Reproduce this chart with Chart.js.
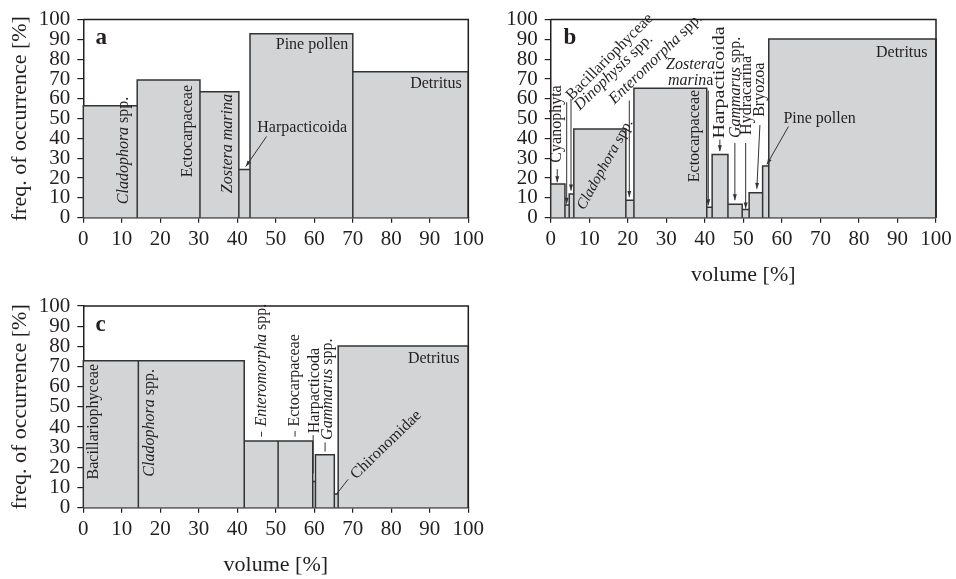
<!DOCTYPE html>
<html>
<head>
<meta charset="utf-8">
<script src="https://cdn.jsdelivr.net/npm/chart.js@4.4.1/dist/chart.umd.min.js"></script>
<style>
  html, body { margin: 0; padding: 0; background: #fff; }
  body { width: 956px; height: 579px; position: relative; overflow: hidden; }
  canvas { position: absolute; }
</style>
</head>
<body>
<canvas id="panelA" width="490" height="260" style="left:0;top:0"></canvas>
<canvas id="panelB" width="466" height="290" style="left:490px;top:0"></canvas>
<canvas id="panelC" width="490" height="299" style="left:0;top:280px"></canvas>
<script>
// bar edges on the volume axis [%] and bar heights = freq. of occurrence [%]
var aNames = ["Cladophora spp.", "Ectocarpaceae", "Zostera marina", "Harpacticoida", "Pine pollen", "Detritus"];
var aEdges = [0, 14, 30.3, 40.4, 43.3, 70, 100];
var aFreq  = [56.5, 69.5, 63.6, 24.3, 92.9, 73.7];

var bNames = ["Cyanophyta", "Bacillariophyceae", "Dinophysis spp.", "Cladophora spp.", "Enteromorpha spp.",
              "Ectocarpaceae", "Zostera marina", "Harpacticoida", "Gammarus spp.", "Hydracarina",
              "Bryozoa", "Pine pollen", "Detritus"];
var bEdges = [0, 3.7, 4.8, 6.0, 19.5, 21.6, 40.5, 41.9, 46.0, 49.7, 51.5, 55.0, 56.6, 100];
var bFreq  = [17, 6.4, 12, 44.8, 8.8, 65.3, 5.3, 31.9, 6.8, 4.1, 12.6, 26.1, 90.2];

var cNames = ["Bacillariophyceae", "Cladophora spp.", "Enteromorpha spp.", "Ectocarpaceae",
              "Harpacticoda", "Gammarus spp.", "Chironomidae", "Detritus"];
var cEdges = [0, 14.3, 41.8, 50.6, 59.6, 60.3, 65.2, 66.2, 100];
var cFreq  = [72.9, 72.9, 33.1, 33.1, 13, 26.3, 6.8, 80.2];

var xTicks = [0, 10, 20, 30, 40, 50, 60, 70, 80, 90, 100];
var yTicks = [0, 10, 20, 30, 40, 50, 60, 70, 80, 90, 100];

var SERIF = '"Liberation Serif", "Times New Roman", serif';
var INK = "#231f20";

// outline of the variable-width bars: up, across, down for every bar
function outline(edges, freq) {
  var pts = [{ x: edges[0], y: 0 }];
  for (var i = 0; i < freq.length; i++) {
    pts.push({ x: edges[i], y: freq[i] });
    pts.push({ x: edges[i + 1], y: freq[i] });
    pts.push({ x: edges[i + 1], y: 0 });
  }
  return pts;
}

// frame, leader lines and the text labels, placed in data units
var notes = {
  id: "notes",
  afterDatasetsDraw: function(chart, args, opts) {
    var ctx = chart.ctx, xs = chart.scales.x, ys = chart.scales.y, a = chart.chartArea;
    ctx.save();
    ctx.strokeStyle = INK;
    ctx.lineWidth = 1.5;
    ctx.beginPath();
    ctx.moveTo(a.left, a.top);
    ctx.lineTo(a.right, a.top);
    ctx.lineTo(a.right, a.bottom);
    ctx.stroke();

    ctx.strokeStyle = "#333";
    ctx.fillStyle = "#333";
    ctx.lineWidth = 1;
    (opts.lines || []).forEach(function(l) {
      var x1 = xs.getPixelForValue(l[0]), y1 = ys.getPixelForValue(l[1]);
      var x2 = xs.getPixelForValue(l[2]), y2 = ys.getPixelForValue(l[3]);
      ctx.beginPath();
      ctx.moveTo(x1, y1);
      ctx.lineTo(x2, y2);
      ctx.stroke();
      if (l[4]) {
        var ang = Math.atan2(y2 - y1, x2 - x1);
        ctx.save();
        ctx.translate(x2, y2);
        ctx.rotate(ang);
        ctx.beginPath();
        ctx.moveTo(0, 0);
        ctx.lineTo(-6, -2);
        ctx.lineTo(-6, 2);
        ctx.closePath();
        ctx.fill();
        ctx.restore();
      }
    });

    ctx.fillStyle = INK;
    ctx.textBaseline = "middle";
    ctx.textAlign = "left";
    (opts.labels || []).forEach(function(t) {
      var size = t.size || 16;
      var fonts = t.parts.map(function(p) {
        return (p[1] ? "italic " : "") + (t.bold ? "bold " : "") + size + "px " + SERIF;
      });
      var total = 0;
      var widths = t.parts.map(function(p, i) {
        ctx.font = fonts[i];
        var w = ctx.measureText(p[0]).width;
        total += w;
        return w;
      });
      var start = t.align === "right" ? -total : (t.align === "center" ? -total / 2 : 0);
      ctx.save();
      ctx.translate(xs.getPixelForValue(t.x), ys.getPixelForValue(t.y));
      ctx.rotate(-(t.rot || 0) * Math.PI / 180);
      if (t.sx) ctx.scale(t.sx, 1);
      var cx = start;
      t.parts.forEach(function(p, i) {
        ctx.font = fonts[i];
        ctx.fillText(p[0], cx, 0);
        cx += widths[i];
      });
      ctx.restore();
    });
    ctx.restore();
  }
};

function makePanel(id, edges, freq, o) {
  return new Chart(document.getElementById(id), {
    type: "line",
    data: {
      datasets: [{
        data: outline(edges, freq),
        backgroundColor: "#d3d4d6",
        borderColor: "#333",
        borderWidth: 1.5,
        borderJoinStyle: "miter",
        pointRadius: 0,
        tension: 0,
        fill: "origin",
        clip: 4
      }]
    },
    options: {
      responsive: false,
      animation: false,
      devicePixelRatio: 1,
      layout: { padding: o.padding },
      scales: {
        x: {
          type: "linear",
          min: 0,
          max: 100,
          afterBuildTicks: function(s) { s.ticks = xTicks.map(function(v) { return { value: v }; }); },
          afterFit: function(s) { s.height = o.xHeight; },
          ticks: { font: { family: SERIF, size: 21 }, color: INK, padding: 4, maxRotation: 0, autoSkip: false },
          grid: { drawOnChartArea: false, tickLength: 5, color: INK, lineWidth: 1.2 },
          border: { color: INK, width: 1.5 },
          title: {
            display: !!o.xTitle,
            text: "volume [%]",
            font: { family: SERIF, size: 22 },
            color: INK,
            padding: { top: 0, bottom: o.xTitlePad || 0 }
          }
        },
        y: {
          min: 0,
          max: 100,
          afterBuildTicks: function(s) { s.ticks = yTicks.map(function(v) { return { value: v }; }); },
          afterFit: function(s) { s.width = o.yWidth; },
          ticks: { font: { family: SERIF, size: 21 }, color: INK, padding: 7, autoSkip: false },
          grid: { drawOnChartArea: false, tickLength: 6, color: INK, lineWidth: 1.2 },
          border: { color: INK, width: 1.5 },
          title: {
            display: !!o.yTitle,
            text: "freq. of occurrence [%]",
            font: { family: SERIF, size: 22 },
            color: INK,
            padding: { top: 7.5, bottom: 0 }
          }
        }
      },
      plugins: {
        legend: { display: false },
        tooltip: { enabled: false },
        notes: { labels: o.labels, lines: o.lines }
      }
    },
    plugins: [notes]
  });
}

var up = 90;
makePanel("panelA", aEdges, aFreq, {
  padding: { top: 16.3, right: 21.7, left: 0, bottom: 0 },
  yWidth: 83.3, xHeight: 42.3, yTitle: true,
  labels: [
    { parts: [["a", 0]], x: 3.2, y: 90.7, bold: true, size: 23 },
    { parts: [["Cladophora", 1], [" spp.", 0]], x: 10.4, y: 6.8, rot: up },
    { parts: [["Ectocarpaceae", 0]], x: 27.1, y: 20.4, rot: up },
    { parts: [["Zostera marina", 1]], x: 37.5, y: 12.4, rot: up },
    { parts: [["Harpacticoida", 0]], x: 45.2, y: 45.5 },
    { parts: [["Pine pollen", 0]], x: 68.8, y: 87.4, align: "right" },
    { parts: [["Detritus", 0]], x: 98.3, y: 67.5, align: "right" }
  ],
  lines: [[47.6, 41.0, 42.2, 25.8, 1]]
});

makePanel("panelB", bEdges, bFreq, {
  padding: { top: 16, right: 20, left: 0, bottom: 0 },
  yWidth: 60.7, xHeight: 72.3, xTitle: true, xTitlePad: 1.8,
  labels: [
    { parts: [["b", 0]], x: 3.3, y: 90.6, bold: true, size: 23 },
    { parts: [["Cyanophyta", 0]], x: 1.6, y: 27.8, rot: up },
    { parts: [["Bacillariophyceae", 0]], x: 4.7, y: 60.5, rot: 45 },
    { parts: [["Dinophysis", 1], [" spp.", 0]], x: 6.8, y: 55.5, rot: 44 },
    { parts: [["Enteromorpha", 1], [" spp.", 0]], x: 15.8, y: 58.7, rot: 44 },
    { parts: [["Cladophora", 1], [" spp.", 0]], x: 7.8, y: 4.6, rot: 61, size: 15 },
    { parts: [["Zostera", 1]], x: 36.3, y: 77.4, align: "center" },
    { parts: [["marin", 1], ["a", 0]], x: 36.3, y: 69.1, align: "center" },
    { parts: [["Ectocarpaceae", 0]], x: 37.4, y: 17.9, rot: up },
    { parts: [["Harpacticoida", 0]], x: 43.9, y: 40, rot: up, sx: 1.25 },
    { parts: [["Gammarus", 1], [" spp.", 0]], x: 48.1, y: 40.2, rot: up },
    { parts: [["Hydracarina", 0]], x: 50.9, y: 41.8, rot: up },
    { parts: [["Bryozoa", 0]], x: 54.3, y: 50.9, rot: up },
    { parts: [["Pine pollen", 0]], x: 60.4, y: 50.1 },
    { parts: [["Detritus", 0]], x: 97.8, y: 83.1, align: "right" }
  ],
  lines: [
    [1.7, 24.5, 1.7, 17.9, 1],
    [4.15, 58.3, 4.15, 7.1, 1],
    [5.27, 60, 5.27, 13.7, 1],
    [20.4, 59.2, 20.4, 10.4, 1],
    [40.9, 64.2, 40.9, 6.3, 1],
    [43.9, 39.4, 43.9, 33.6, 1],
    [47.8, 37.7, 47.8, 8.8, 1],
    [50.6, 37.7, 50.6, 4.6, 1],
    [54.3, 46.8, 53.5, 14.6, 1],
    [61.7, 46, 56.1, 26.9, 1]
  ]
});

makePanel("panelC", cEdges, cFreq, {
  padding: { top: 26, right: 21.7, left: 0, bottom: 0 },
  yWidth: 83.3, xHeight: 71.3, yTitle: true, xTitle: true, xTitlePad: 0.8,
  labels: [
    { parts: [["c", 0]], x: 3.2, y: 90.6, bold: true, size: 23 },
    { parts: [["Bacillariophyceae", 0]], x: 2.6, y: 14, rot: up },
    { parts: [["Cladophora", 1], [" spp.", 0]], x: 17.3, y: 15.4, rot: up },
    { parts: [["Enteromorpha", 1], [" spp.", 0]], x: 46.3, y: 40.2, rot: up },
    { parts: [["Ectocarpaceae", 0]], x: 55, y: 40.2, rot: up },
    { parts: [["Harpacticoda", 0]], x: 60.2, y: 36.9, rot: up },
    { parts: [["Gammarus", 1], [" spp.", 0]], x: 63.6, y: 33.6, rot: up },
    { parts: [["Chironomidae", 0]], x: 70.1, y: 15.4, rot: 44 },
    { parts: [["Detritus", 0]], x: 97.7, y: 73.7, align: "right" }
  ],
  lines: [
    [46.3, 37.7, 46.3, 35.2],
    [55, 38, 55, 35.2],
    [59.7, 36, 59.7, 17],
    [62.8, 32.4, 62.8, 27.8],
    [68.8, 14.1, 65.8, 6.8]
  ]
});
</script>
</body>
</html>
